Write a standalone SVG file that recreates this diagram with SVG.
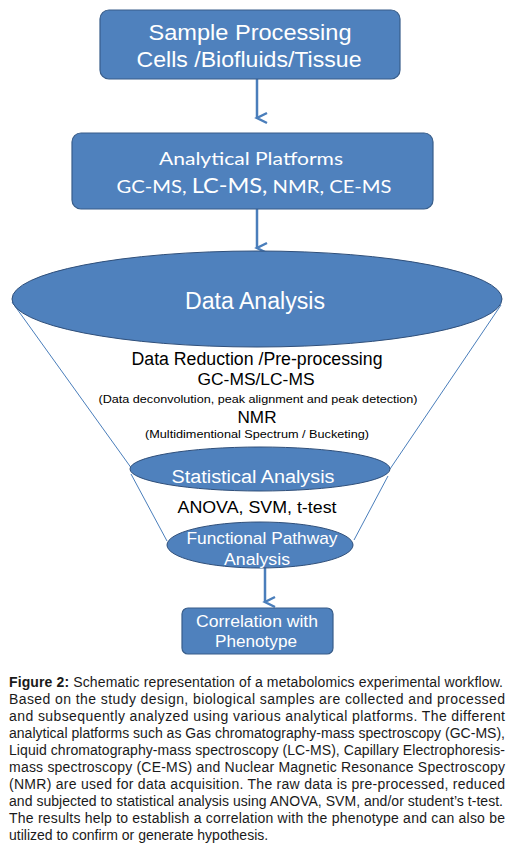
<svg xmlns="http://www.w3.org/2000/svg" width="509" height="853" viewBox="0 0 509 853">
<style>
.box{fill:#4f81bd;stroke:#385d8a;stroke-width:1.2}
.ell{fill:#4f81bd;stroke:#2f4f7a;stroke-width:1}
.wt{fill:#ffffff;font-family:"Liberation Sans",Arial,sans-serif;text-anchor:middle}
.cal{fill:#ffffff;font-family:Lato,"Open Sans",sans-serif;text-anchor:middle}
.bk{fill:#000000;font-family:"Liberation Sans",Arial,sans-serif;text-anchor:middle}
.cap{fill:#1a1a1a;font-family:"Liberation Sans",Arial,sans-serif;font-size:14px}
.conn{stroke:#4a7ebb;stroke-width:2.5;fill:none}
.fun{stroke:#4a7ebb;stroke-width:1;fill:none}
</style>
<defs>
<marker id="arr" markerUnits="userSpaceOnUse" markerWidth="16" markerHeight="16" refX="8" refY="13" orient="auto" viewBox="0 0 16 16">
<path d="M3,3 L8,13 L13,3" fill="none" stroke="#4a7ebb" stroke-width="2.5"/>
</marker>
</defs>
<rect width="509" height="853" fill="#ffffff"/>

<g id="funnel">
<path class="fun" d="M12,302 L132,469 M501,305 L390,469 M131,474 L167,541 M388,476 L354,540"/>
</g>

<g id="connectors">
<line class="conn" x1="257" y1="79" x2="257" y2="118" marker-end="url(#arr)"/>
<line class="conn" x1="257" y1="209" x2="257" y2="248" marker-end="url(#arr)"/>
<line class="conn" x1="265" y1="556" x2="265" y2="602" marker-end="url(#arr)"/>
</g>

<g id="sample-processing">
<rect class="box" x="100" y="10" width="300" height="69" rx="9"/>
<text class="wt" x="250" y="40" font-size="22" textLength="203" lengthAdjust="spacingAndGlyphs">Sample  Processing</text>
<text class="wt" x="249" y="67" font-size="22" textLength="225" lengthAdjust="spacingAndGlyphs">Cells /Biofluids/Tissue</text>
</g>

<g id="analytical-platforms">
<rect class="box" x="72" y="133" width="361" height="76" rx="9"/>
<text class="cal" x="251" y="165" font-size="18" textLength="184" lengthAdjust="spacingAndGlyphs">Analytical Platforms</text>
<text class="cal" x="254" y="193" font-size="18" textLength="275" lengthAdjust="spacingAndGlyphs">GC-MS, <tspan font-size="21">LC-MS,</tspan> NMR, CE-MS</text>
</g>

<g id="data-analysis">
<ellipse class="ell" cx="257" cy="299" rx="245" ry="48"/>
<text class="wt" x="255" y="309" font-size="23" textLength="140" lengthAdjust="spacingAndGlyphs">Data Analysis</text>
</g>

<g id="data-reduction">
<text class="bk" x="257" y="365" font-size="18" textLength="251" lengthAdjust="spacingAndGlyphs">Data Reduction /Pre-processing</text>
<text class="bk" x="256" y="385" font-size="16" textLength="117" lengthAdjust="spacingAndGlyphs">GC-MS/LC-MS</text>
<text class="bk" x="258" y="403" font-size="11.5" textLength="319" lengthAdjust="spacingAndGlyphs">(Data deconvolution, peak alignment and peak detection)</text>
<text class="bk" x="257" y="423" font-size="16" textLength="39" lengthAdjust="spacingAndGlyphs">NMR</text>
<text class="bk" x="257" y="438" font-size="11.5" textLength="224" lengthAdjust="spacingAndGlyphs">(Multidimentional Spectrum / Bucketing)</text>
</g>

<g id="statistical-analysis">
<ellipse class="ell" cx="260" cy="469" rx="130" ry="22"/>
<text class="wt" x="253" y="483" font-size="18" textLength="163" lengthAdjust="spacingAndGlyphs">Statistical Analysis</text>
</g>

<g id="anova">
<text class="bk" x="257" y="513" font-size="17" textLength="159" lengthAdjust="spacingAndGlyphs">ANOVA, SVM, t-test</text>
</g>

<g id="functional-pathway">
<ellipse class="ell" cx="260" cy="545" rx="93" ry="23"/>
<text class="wt" x="262" y="544" font-size="17" textLength="151" lengthAdjust="spacingAndGlyphs">Functional Pathway</text>
<text class="wt" x="257" y="565" font-size="17" textLength="66" lengthAdjust="spacingAndGlyphs">Analysis</text>
</g>

<g id="correlation">
<rect class="box" x="182" y="608" width="151" height="46" rx="6"/>
<text class="wt" x="257" y="627" font-size="16" textLength="122" lengthAdjust="spacingAndGlyphs">Correlation with</text>
<text class="wt" x="256" y="647" font-size="16" textLength="82" lengthAdjust="spacingAndGlyphs">Phenotype</text>
</g>

<g id="caption">
<text class="cap" x="9" y="687" textLength="494" lengthAdjust="spacing"><tspan font-weight="bold">Figure 2:</tspan> Schematic representation of a metabolomics experimental workflow.</text>
<text class="cap" x="9" y="704" textLength="496" lengthAdjust="spacing">Based on the study design, biological samples are collected and processed</text>
<text class="cap" x="9" y="721" textLength="496" lengthAdjust="spacing">and subsequently analyzed using various analytical platforms. The different</text>
<text class="cap" x="9" y="738" textLength="496" lengthAdjust="spacing">analytical platforms such as Gas chromatography-mass spectroscopy (GC-MS),</text>
<text class="cap" x="9" y="755" textLength="496" lengthAdjust="spacing">Liquid chromatography-mass spectroscopy (LC-MS), Capillary Electrophoresis-</text>
<text class="cap" x="9" y="772" textLength="496" lengthAdjust="spacing">mass spectroscopy (CE-MS) and Nuclear Magnetic Resonance Spectroscopy</text>
<text class="cap" x="9" y="789" textLength="496" lengthAdjust="spacing">(NMR) are used for data acquisition. The raw data is pre-processed, reduced</text>
<text class="cap" x="9" y="806" textLength="494" lengthAdjust="spacing">and subjected to statistical analysis using ANOVA, SVM, and/or student’s t-test.</text>
<text class="cap" x="9" y="823" textLength="496" lengthAdjust="spacing">The results help to establish a correlation with the phenotype and can also be</text>
<text class="cap" x="9" y="840">utilized to confirm or generate hypothesis.</text>
</g>
</svg>
